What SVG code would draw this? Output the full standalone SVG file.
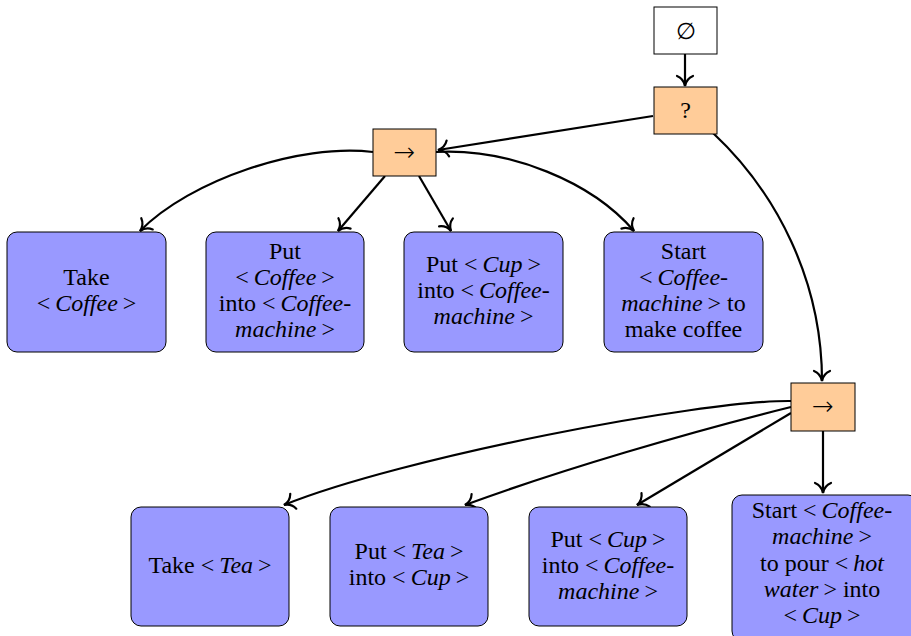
<svg xmlns="http://www.w3.org/2000/svg" width="911" height="636" viewBox="0 0 911 636">
  <style>
    .ctl { fill: #FFCC99; stroke: #000; stroke-width: 1; }
    .root { fill: #FFFFFF; stroke: #000; stroke-width: 1; }
    .act { fill: #9999FF; stroke: #000; stroke-width: 1; }
    .lbl { font-family: 'Liberation Serif', 'Times New Roman', Times, 'DejaVu Serif', serif; font-size: 24px; fill: #000; text-anchor: middle; }
    .sym { font-family: 'DejaVu Serif', serif; font-size: 23px; fill: #000; text-anchor: middle; }
    .arw { font-family: 'DejaVu Sans', sans-serif; font-size: 26px; font-weight: 300; fill: #000; text-anchor: middle; }
    .i { font-style: italic; }
    .edge { fill: none; stroke: #000; stroke-width: 2.2; marker-end: url(#to); }
  </style>
  <defs>
    <marker id="to" markerUnits="userSpaceOnUse" markerWidth="20" markerHeight="20" orient="auto" overflow="visible">
      <path d="M -10,-8 C -8,-3 -3.5,-0.7 0,0 C -3.5,0.7 -8,3 -10,8" fill="none" stroke="#000" stroke-width="2.2" stroke-linecap="round"/>
    </marker>
  </defs>

  <!-- connectors -->
  <g id="edges">
    <path class="edge" d="M685,54 L685,86"/>
    <path class="edge" d="M653,116 L438,150"/>
    <path class="edge" d="M713,133 C776,192 822,280 822,381"/>
    <path class="edge" d="M373,152 C300,143 190,180 140,231"/>
    <path class="edge" d="M385,176 L338,231"/>
    <path class="edge" d="M419,176 L451,231"/>
    <path class="edge" d="M436,152 C510,148 592,182 634,231"/>
    <path class="edge" d="M791,401 C700,400 400,458 284,505"/>
    <path class="edge" d="M791,407 C690,432 560,470 465,505"/>
    <path class="edge" d="M791,413 L637,505"/>
    <path class="edge" d="M823,431 L823,493"/>
  </g>

  <!-- control nodes -->
  <g id="n-empty">
    <rect class="root" x="654" y="7" width="63" height="47"/>
    <text class="sym" x="685.5" y="39">∅</text>
  </g>
  <g id="n-fallback">
    <rect class="ctl" x="654" y="87" width="63" height="47"/>
    <text class="lbl" x="685.5" y="118">?</text>
  </g>
  <g id="n-seq1">
    <rect class="ctl" x="373" y="129" width="63" height="47"/>
    <text class="arw" x="404.5" y="161">→</text>
  </g>
  <g id="n-seq2">
    <rect class="ctl" x="791" y="383" width="64" height="48"/>
    <text class="arw" x="823" y="415">→</text>
  </g>

  <!-- coffee actions -->
  <g id="a-take-coffee">
    <rect class="act" x="7" y="232" width="159" height="120" rx="10"/>
    <text class="lbl" x="86.5" y="285">Take</text>
    <text class="lbl" x="86.5" y="311">&lt;<tspan class="i" dx="5">Coffee</tspan><tspan dx="5">&gt;</tspan></text>
  </g>
  <g id="a-put-coffee">
    <rect class="act" x="206" y="232" width="158" height="120" rx="10"/>
    <text class="lbl" x="285" y="259">Put</text>
    <text class="lbl" x="285" y="285">&lt;<tspan class="i" dx="5">Coffee</tspan><tspan dx="5">&gt;</tspan></text>
    <text class="lbl" x="285" y="311">into &lt;<tspan class="i" dx="5">Coffee-</tspan></text>
    <text class="lbl" x="285" y="337"><tspan class="i">machine</tspan><tspan dx="5">&gt;</tspan></text>
  </g>
  <g id="a-put-cup">
    <rect class="act" x="404" y="232" width="159" height="120" rx="10"/>
    <text class="lbl" x="483.5" y="272">Put &lt;<tspan class="i" dx="5">Cup</tspan><tspan dx="5">&gt;</tspan></text>
    <text class="lbl" x="483.5" y="298">into &lt;<tspan class="i" dx="5">Coffee-</tspan></text>
    <text class="lbl" x="483.5" y="324"><tspan class="i">machine</tspan><tspan dx="5">&gt;</tspan></text>
  </g>
  <g id="a-start-coffee">
    <rect class="act" x="604" y="232" width="159" height="120" rx="10"/>
    <text class="lbl" x="683.5" y="259">Start</text>
    <text class="lbl" x="683.5" y="285">&lt;<tspan class="i" dx="5">Coffee-</tspan></text>
    <text class="lbl" x="683.5" y="311"><tspan class="i">machine</tspan><tspan dx="5">&gt; to</tspan></text>
    <text class="lbl" x="683.5" y="337">make coffee</text>
  </g>

  <!-- tea actions -->
  <g id="a-take-tea">
    <rect class="act" x="131" y="507" width="158" height="119" rx="10"/>
    <text class="lbl" x="210" y="573">Take &lt;<tspan class="i" dx="5">Tea</tspan><tspan dx="5">&gt;</tspan></text>
  </g>
  <g id="a-put-tea">
    <rect class="act" x="330" y="507" width="158" height="119" rx="10"/>
    <text class="lbl" x="409" y="559">Put &lt;<tspan class="i" dx="5">Tea</tspan><tspan dx="5">&gt;</tspan></text>
    <text class="lbl" x="409" y="585">into &lt;<tspan class="i" dx="5">Cup</tspan><tspan dx="5">&gt;</tspan></text>
  </g>
  <g id="a-put-cup2">
    <rect class="act" x="529" y="507" width="158" height="119" rx="10"/>
    <text class="lbl" x="608" y="547">Put &lt;<tspan class="i" dx="5">Cup</tspan><tspan dx="5">&gt;</tspan></text>
    <text class="lbl" x="608" y="573">into &lt;<tspan class="i" dx="5">Coffee-</tspan></text>
    <text class="lbl" x="608" y="599"><tspan class="i">machine</tspan><tspan dx="5">&gt;</tspan></text>
  </g>
  <g id="a-pour">
    <rect class="act" x="732" y="495" width="186" height="146" rx="10"/>
    <text class="lbl" x="822" y="518">Start &lt;<tspan class="i" dx="5">Coffee-</tspan></text>
    <text class="lbl" x="822" y="544"><tspan class="i">machine</tspan><tspan dx="5">&gt;</tspan></text>
    <text class="lbl" x="822" y="571">to pour &lt;<tspan class="i" dx="5">hot</tspan></text>
    <text class="lbl" x="822" y="597"><tspan class="i">water</tspan><tspan dx="5">&gt; into</tspan></text>
    <text class="lbl" x="822" y="623">&lt;<tspan class="i" dx="5">Cup</tspan><tspan dx="5">&gt;</tspan></text>
  </g>
</svg>
